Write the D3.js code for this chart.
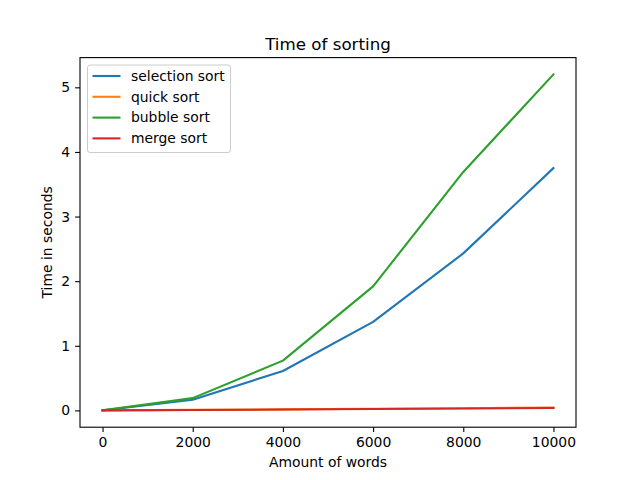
<!DOCTYPE html>
<html>
<head>
<meta charset="utf-8">
<script src="https://cdn.jsdelivr.net/npm/d3@7"></script>
<style>
  body { margin: 0; background: #fff; }
  text { font-family: "DejaVu Sans", sans-serif; fill: #000; }
</style>
</head>
<body>
<div id="chart"></div>
<script>
// data
const words = [0, 2000, 4000, 6000, 8000, 10000];
const selectionSort = [0, 0.165, 0.61, 1.37, 2.43, 3.75];
const quickSort = [0, 0.008, 0.016, 0.025, 0.034, 0.044];
const bubbleSort = [0, 0.19, 0.77, 1.92, 3.69, 5.2];
const mergeSort = [0, 0.006, 0.013, 0.021, 0.029, 0.038];
const seriesNames = ["selection sort", "quick sort", "bubble sort", "merge sort"];
const seriesColors = ["#1f77b4", "#ff7f0e", "#2ca02c", "#d62728"];
const xTicks = [0, 2000, 4000, 6000, 8000, 10000];
const yTicks = [0, 1, 2, 3, 4, 5];

const width = 640, height = 480;
const margin = {left: 80, right: 64, top: 57.6, bottom: 52.8};

const svg = d3.select("#chart").append("svg")
  .attr("width", width)
  .attr("height", height);

// axis ranges with matplotlib-like 5% padding
const xMin = d3.min(words), xMax = d3.max(words);
const xPad = (xMax - xMin) * 0.05;
const allY = [].concat(selectionSort, quickSort, bubbleSort, mergeSort);
const yMin = d3.min(allY), yMax = d3.max(allY);
const yPad = (yMax - yMin) * 0.05;

const x = d3.scaleLinear()
  .domain([xMin - xPad, xMax + xPad])
  .range([margin.left, width - margin.right]);
const y = d3.scaleLinear()
  .domain([yMin - yPad, yMax + yPad])
  .range([height - margin.bottom, margin.top]);

// lines
const series = [selectionSort, quickSort, bubbleSort, mergeSort];
const line = d3.line()
  .x(function(d, i) { return x(words[i]); })
  .y(function(d) { return y(d); });

series.forEach(function(vals, i) {
  svg.append("path")
    .datum(vals)
    .attr("fill", "none")
    .attr("stroke", seriesColors[i])
    .attr("stroke-width", 2.1)
    .attr("stroke-linecap", "square")
    .attr("stroke-linejoin", "round")
    .attr("d", line);
});

// axes
const xAxis = svg.append("g")
  .attr("transform", "translate(0," + (height - margin.bottom) + ")")
  .call(d3.axisBottom(x).tickValues(xTicks).tickSize(4.9).tickPadding(4.9).tickFormat(d3.format("d")));
const yAxis = svg.append("g")
  .attr("transform", "translate(" + margin.left + ",0)")
  .call(d3.axisLeft(y).tickValues(yTicks).tickSize(4.9).tickPadding(4.9).tickFormat(d3.format("d")));

[xAxis, yAxis].forEach(function(g) {
  g.select(".domain").remove();
  g.selectAll("text").style("font-family", "DejaVu Sans").style("font-size", "13.9px").attr("fill", "#000");
  g.selectAll("line").attr("stroke", "#000").attr("stroke-width", 1.1);
});

// frame
svg.append("rect")
  .attr("x", margin.left)
  .attr("y", margin.top)
  .attr("width", width - margin.left - margin.right)
  .attr("height", height - margin.top - margin.bottom)
  .attr("fill", "none")
  .attr("stroke", "#000")
  .attr("stroke-width", 1.1);

// title and labels
svg.append("text")
  .attr("x", (margin.left + width - margin.right) / 2)
  .attr("y", margin.top - 8)
  .attr("text-anchor", "middle")
  .style("font-size", "16.7px")
  .text("Time of sorting");

svg.append("text")
  .attr("x", (margin.left + width - margin.right) / 2)
  .attr("y", 467)
  .attr("text-anchor", "middle")
  .style("font-size", "13.9px")
  .text("Amount of words");

svg.append("text")
  .attr("transform", "translate(52," + ((margin.top + height - margin.bottom) / 2) + ") rotate(-90)")
  .attr("text-anchor", "middle")
  .style("font-size", "13.9px")
  .text("Time in seconds");

// legend
const legend = svg.append("g").attr("transform", "translate(87.5,65)");
legend.append("rect")
  .attr("width", 143)
  .attr("height", 87.5)
  .attr("rx", 2.5)
  .attr("fill", "#fff")
  .attr("fill-opacity", 0.8)
  .attr("stroke", "#cccccc")
  .attr("stroke-width", 1);

seriesNames.forEach(function(name, i) {
  const row = legend.append("g").attr("transform", "translate(0," + (11 + i * 20.8) + ")");
  row.append("line")
    .attr("x1", 5).attr("x2", 33)
    .attr("stroke", seriesColors[i])
    .attr("stroke-width", 2.1);
  row.append("text")
    .attr("x", 43.5)
    .attr("dy", "0.35em")
    .style("font-size", "13.9px")
    .text(name);
});
</script>
</body>
</html>
